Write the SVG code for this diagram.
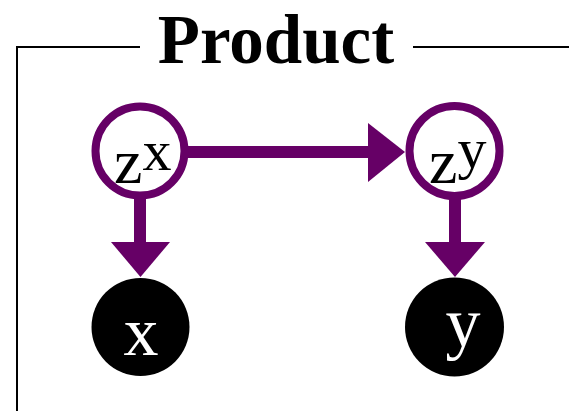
<svg xmlns="http://www.w3.org/2000/svg" width="569" height="411" viewBox="0 0 569 411">
<style>
.frame{fill:none;stroke:#000;stroke-width:2}
.latent{fill:#fff;stroke:#660066;stroke-width:8}
.obs{fill:#000}
.edge{stroke:#660066;stroke-width:12;fill:none}
.head{fill:#660066}
.t{font-family:"Liberation Serif",serif;fill:#000}
.w{font-family:"Liberation Serif",serif;fill:#fff}
</style>
<g id="plate">
<polyline class="frame" points="140,47 17,47 17,411"/>
<line class="frame" x1="413" y1="47" x2="569" y2="47"/>
<text class="t" x="276" y="63" font-size="69" font-weight="bold" text-anchor="middle">Product</text>
</g>
<g id="connectors">
<line class="edge" x1="188" y1="152" x2="370" y2="152"/>
<polygon class="head" points="368,123 405,152 368,182"/>
<line class="edge" x1="140" y1="199" x2="140" y2="244"/>
<polygon class="head" points="111,242 170,242 140.5,277"/>
<line class="edge" x1="455" y1="199" x2="455" y2="244"/>
<polygon class="head" points="425,242 485,242 455,277"/>
</g>
<g id="zx">
<circle class="latent" cx="140" cy="151" r="44.5"/>
<text class="t" x="114" y="183" font-size="64">z<tspan font-size="58" dy="-13">x</tspan></text>
</g>
<g id="zy">
<circle class="latent" cx="454.5" cy="151" r="45"/>
<text class="t" x="429" y="183" font-size="64">z<tspan font-size="58" dy="-15">y</tspan></text>
</g>
<g id="x">
<circle class="obs" cx="140.5" cy="327" r="49"/>
<text class="w" x="141" y="355" font-size="70" text-anchor="middle">x</text>
</g>
<g id="y">
<circle class="obs" cx="454.5" cy="327" r="49.5"/>
<text class="w" x="463" y="346" font-size="70" text-anchor="middle">y</text>
</g>
</svg>
